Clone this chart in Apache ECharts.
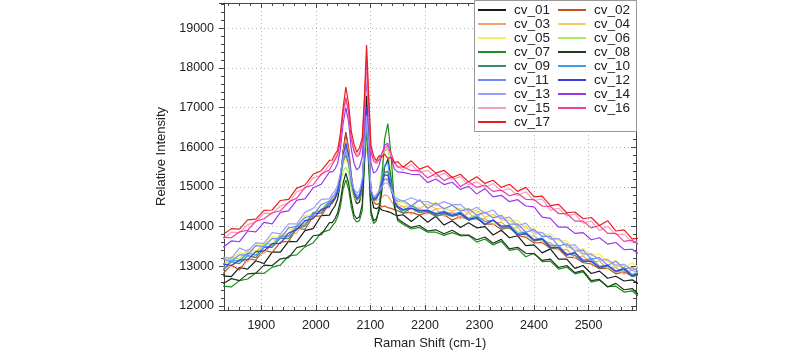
<!DOCTYPE html>
<html>
<head>
<meta charset="utf-8" />
<title>Raman spectra</title>
<script src="https://cdn.jsdelivr.net/npm/echarts@6/dist/echarts.min.js"></script>
<style type="text/css">
body, html {
	margin: 0;
	padding: 0;
	background: #fff;
}
#chart {
	width: 800px;
	height: 356px;
}
</style>
</head>
<body>
<div id="chart"></div>
<script>
// Raman shift positions (cm-1), denser around the three peaks
const shift = [1830,1845,1860,1875,1890,1905,1920,1935,1950,1965,1980,1995,2010,2025,
	2030,2035,2040,2045,2050,2055,2060,2065,2070,2075,2080,2085,2089,2093,2097,2101,2106,2111,2116,2121,2126,2132,2138,2144,2150,
	2160,2175,2190,2205,2220,2235,2250,2265,2280,2295,2310,2325,2340,2355,2370,2385,2400,2415,2430,2445,2460,2475,2490,2505,2520,2535,2550,2565,2580,2595];

const names = ['cv_01','cv_02','cv_03','cv_04','cv_05','cv_06','cv_07','cv_08','cv_09','cv_10','cv_11','cv_12','cv_13','cv_14','cv_15','cv_16','cv_17'];
const colors = ['#1a1a1a','#c4501e','#f4a470','#f5c860','#f0f060','#a8ec60','#1e8c1e','#1a3c1a','#3a8a7c','#3c9ce6','#7088f8','#3c3ce0','#98a0f8','#9a38ec','#f8a0c0','#f03c9c','#e82020'];

const cv01 = [12760,12740,12970,12930,13140,13070,13360,13360,13630,13620,13900,13950,14280,14290,
	14420,14520,14700,15100,15900,16380,15950,15200,14750,14580,14620,14950,16100,17300,16100,14800,14480,14450,14500,14420,14400,14380,14350,14300,14280,
	14300,14130,14290,14110,14260,14040,14150,13980,14100,13970,14000,13790,13910,13720,13770,13520,13540,13340,13440,13180,13180,12950,13020,12820,12880,12700,12750,12630,12660,12530];
const cv02 = [12820,13030,12910,13180,13160,13400,13350,13610,13630,13960,13930,14260,14270,14590,
	14580,14700,14850,15200,15900,16350,16000,15300,14850,14650,14700,15000,16000,17000,16000,14900,14620,14560,14580,14500,14520,14480,14460,14430,14400,
	14340,14360,14290,14360,14280,14300,14170,14250,14180,14210,14060,14070,13930,13990,13780,13730,13590,13600,13450,13440,13230,13220,13090,13060,12940,12950,12810,12860,12750,12810];
const cv03 = [12980,13000,13150,13120,13290,13330,13560,13580,13780,13840,14130,14200,14450,14480,
	14640,14740,14880,15250,15850,16200,15900,15250,14850,14700,14750,15050,16000,16900,16000,14950,14680,14650,14700,14750,14800,14780,14650,14520,14480,
	14510,14310,14470,14320,14450,14260,14370,14200,14350,14170,14210,14050,14120,13940,13980,13740,13770,13610,13600,13410,13430,13210,13260,13080,13140,12930,12970,12800,12910,12770];
const cv04 = [13040,13210,13190,13430,13380,13560,13560,13810,13830,14050,14070,14360,14430,14670,
	14680,14760,14900,15250,15650,15900,15650,15100,14800,14700,14760,15050,15800,16400,15800,14850,14680,14720,14850,15050,15200,15150,14900,14650,14580,
	14500,14540,14460,14570,14450,14470,14390,14460,14340,14420,14240,14310,14170,14160,13990,14010,13810,13860,13680,13700,13480,13470,13280,13330,13170,13180,12970,13050,12920,13010];
const cv05 = [13220,13190,13350,13300,13540,13540,13750,13720,13950,14000,14280,14310,14560,14590,
	14720,14800,14950,15250,15550,15700,15500,15050,14800,14720,14780,15000,15600,16000,15600,14900,14720,14800,14950,15200,15400,15350,15000,14700,14620,
	14610,14490,14660,14480,14620,14420,14550,14430,14460,14350,14390,14230,14300,14140,14160,13940,13950,13760,13830,13650,13640,13390,13450,13260,13310,13100,13140,12970,13090,12930];
const cv06 = [13030,13240,13180,13340,13340,13550,13570,13750,13760,14020,14100,14330,14360,14590,
	14640,14720,14850,15100,15400,15500,15350,14950,14720,14650,14700,14950,15600,16100,15600,14800,14620,14680,14900,15400,15900,16000,15300,14700,14500,
	14390,14470,14430,14420,14350,14380,14280,14360,14220,14300,14120,14150,13980,14050,13870,13860,13630,13690,13520,13530,13320,13330,13120,13210,13000,13010,12850,12930,12790,12880];
const cv07 = [12500,12480,12640,12680,12830,12820,12980,13030,13260,13290,13490,13590,13850,13920,
	14020,14100,14250,14500,14950,15180,14950,14500,14200,14120,14150,14400,15500,16500,15500,14300,14080,14150,14500,15200,16200,16600,15800,14600,14150,
	14060,13940,13980,13860,13860,13780,13850,13770,13780,13610,13690,13540,13630,13400,13440,13240,13330,13120,13130,12930,12980,12810,12860,12600,12650,12490,12500,12350,12380,12210];
const cv08 = [12560,12690,12640,12810,12830,13030,13020,13190,13220,13470,13520,13770,13800,14100,
	14100,14200,14350,14650,15100,15350,15100,14650,14300,14200,14250,14550,15700,16700,15700,14400,14150,14200,14400,14900,15500,15700,15200,14500,14200,
	14100,13980,14030,13890,13920,13820,13910,13790,13790,13670,13740,13580,13680,13440,13480,13330,13320,13150,13180,12970,13020,12840,12890,12640,12670,12480,12570,12410,12440,12240];
const cv09 = [12890,13120,13070,13270,13220,13480,13480,13710,13700,13950,14010,14330,14340,14590,
	14620,14700,14850,15200,15650,15800,15600,15100,14800,14680,14720,15000,15800,16500,15800,14850,14650,14700,14850,15100,15350,15400,15000,14600,14480,
	14340,14470,14350,14390,14250,14330,14260,14310,14160,14220,14040,14170,13970,13970,13790,13820,13640,13680,13460,13470,13310,13280,13110,13130,12950,13010,12860,12920,12740,12790];
const cv10 = [12920,13160,13130,13330,13280,13490,13510,13760,13760,14000,14040,14350,14400,14630,
	14660,14740,14900,15250,15750,16000,15750,15200,14850,14720,14760,15050,15950,16800,15950,14900,14700,14750,14900,15200,15550,15600,15100,14650,14520,
	14400,14530,14410,14410,14330,14390,14310,14370,14200,14270,14130,14160,14010,14030,13830,13860,13680,13710,13530,13530,13290,13340,13160,13190,13000,13030,12860,12970,12790,12850];
const cv11 = [13190,13120,13290,13290,13520,13500,13700,13700,13970,14010,14230,14280,14560,14640,
	14740,14820,14960,15300,15700,15900,15700,15150,14880,14780,14820,15100,15900,16600,15900,14900,14720,14760,14850,15050,15200,15200,14950,14700,14640,
	14660,14520,14680,14460,14590,14450,14540,14390,14450,14290,14360,14220,14280,14060,14070,13860,13930,13750,13760,13510,13570,13380,13410,13180,13220,13020,13130,12930,12970,12830];
const cv12 = [13060,13020,13160,13170,13370,13390,13570,13580,13840,13920,14150,14200,14430,14510,
	14640,14720,14880,15250,15800,16100,15800,15250,14860,14720,14760,15050,16000,17000,16000,14900,14680,14720,14850,15100,15300,15300,14950,14620,14500,
	14430,14460,14390,14410,14310,14360,14280,14340,14180,14230,14060,14170,14010,14020,13790,13830,13660,13690,13480,13480,13280,13350,13130,13130,12970,13030,12880,12940,12760,12830];
const cv13 = [13230,13200,13460,13380,13590,13580,13850,13820,14070,14070,14360,14460,14690,14700,
	14820,14900,15050,15350,15750,15950,15700,15200,14950,14850,14900,15200,16000,16800,16000,14950,14750,14800,14900,15000,15100,15100,14950,14750,14700,
	14640,14730,14640,14630,14540,14630,14550,14560,14390,14490,14340,14420,14200,14240,14020,14090,13870,13850,13690,13700,13520,13540,13320,13300,13170,13160,13030,13050,12890,12980];
const cv14 = [13480,13640,13620,13890,13870,14110,14070,14360,14400,14670,14700,14980,15070,15380,
	15380,15450,15600,15950,16600,17000,16650,15950,15600,15430,15500,15750,16700,17800,16800,15600,15350,15400,15550,15800,16050,16100,15750,15450,15380,
	15370,15320,15310,15110,15200,15060,15120,14940,15020,14820,14960,14750,14790,14630,14680,14520,14500,14240,14210,13990,13990,13830,13850,13670,13720,13560,13600,13420,13430,13280];
const cv15 = [13680,13860,13850,14050,14120,14340,14330,14520,14600,14880,14960,15230,15290,15560,
	15620,15720,15880,16200,16800,17200,16850,16250,15950,15820,15880,16120,17000,17900,17000,15950,15700,15650,15700,15800,15900,15950,15800,15600,15520,
	15430,15570,15360,15420,15250,15350,15190,15260,15050,15130,14990,15090,14900,14960,14780,14880,14660,14700,14410,14470,14270,14320,14090,14140,13900,14010,13800,13810,13610,13650];
const cv16 = [13730,13720,13870,13910,14140,14200,14350,14400,14620,14720,14990,15050,15330,15430,
	15560,15680,15800,16150,16900,17250,16900,16200,15900,15760,15820,16100,17100,18300,17100,15900,15650,15600,15680,15850,15980,16050,15850,15620,15500,
	15510,15410,15420,15230,15340,15160,15260,15010,15130,14990,15050,14890,14920,14780,14840,14690,14680,14520,14510,14330,14330,14140,14140,13970,14030,13830,13830,13630,13660,13520];
const cv17 = [13800,13950,13940,14170,14190,14410,14420,14660,14690,14970,15050,15320,15410,15670,
	15680,15820,15930,16350,17000,17520,17100,16400,16080,15880,15990,16230,17250,18580,17300,16050,15780,15660,15790,15760,15830,15720,15740,15610,15640,
	15500,15660,15450,15530,15350,15420,15240,15320,15130,15260,15090,15170,14990,15070,14890,14990,14750,14770,14530,14560,14350,14370,14200,14230,14030,14150,13890,13920,13690,13710];

const spectra = [cv01,cv02,cv03,cv04,cv05,cv06,cv07,cv08,cv09,cv10,cv11,cv12,cv13,cv14,cv15,cv16,cv17];

let chart = echarts.init(document.getElementById('chart'));

let seriesList = [];
for (let i = 0; i < spectra.length; i++) {
	seriesList.push({
		name: names[i],
		type: 'line',
		symbol: 'none',
		silent: true,
		clip: true,
		data: shift.map(function (x, k) { return [x, spectra[i][k]]; }),
		lineStyle: { width: 1.2, color: colors[i] },
		itemStyle: { color: colors[i] }
	});
}

const fontName = 'Arial, "Liberation Sans", sans-serif';
const plainNum = function (v) { return String(v); };
const axisFont = { fontFamily: fontName, fontSize: 12.5, color: '#222', formatter: plainNum };
const gridLine = { show: true, lineStyle: { color: '#b8b8b8', type: [1, 3], width: 1 } };
const legendText = { fontFamily: fontName, fontSize: 13.5, color: '#222', padding: [0, 0, 0, 3], lineHeight: 14 };

chart.setOption({
	animation: false,
	grid: { left: 224, right: 164, top: 3, bottom: 46 },
	// two legends so that rows can sit tight while columns stay apart
	legend: [
		{
			left: 478, top: 3, orient: 'vertical', padding: 0, itemGap: 0, z: 6,
			icon: 'rect', itemWidth: 28, itemHeight: 2,
			data: ['cv_01','cv_03','cv_05','cv_07','cv_09','cv_11','cv_13','cv_15','cv_17'],
			textStyle: legendText
		},
		{
			left: 558, top: 3, orient: 'vertical', padding: 0, itemGap: 0, z: 6,
			icon: 'rect', itemWidth: 28, itemHeight: 2,
			data: ['cv_02','cv_04','cv_06','cv_08','cv_10','cv_12','cv_14','cv_16'],
			textStyle: legendText
		}
	],
	graphic: [{
		type: 'rect', z: 3,
		shape: { x: 474.5, y: 0.5, width: 162, height: 131 },
		style: { fill: '#fff', stroke: '#999', lineWidth: 1 }
	}],
	xAxis: [
		{
			type: 'value', min: 1831.6, max: 2587, splitNumber: 7,
			name: 'Raman Shift (cm-1)', nameLocation: 'middle', nameGap: 26,
			nameTextStyle: { fontFamily: fontName, fontSize: 13, color: '#222' },
			axisLine: { lineStyle: { color: '#444', width: 1 } },
			axisTick: { inside: true, length: 5, lineStyle: { color: '#444' } },
			minorTick: { show: true, splitNumber: 5, length: 3, lineStyle: { color: '#444' } },
			axisLabel: Object.assign({ margin: 9, showMinLabel: false, showMaxLabel: false }, axisFont),
			splitLine: gridLine
		},
		{
			type: 'value', position: 'top', min: 1831.6, max: 2587, splitNumber: 7,
			axisLine: { show: true, lineStyle: { color: '#444', width: 1 } },
			axisTick: { inside: true, length: 5, lineStyle: { color: '#444' } },
			minorTick: { show: true, splitNumber: 5, length: 3, lineStyle: { color: '#444' } },
			axisLabel: { show: false },
			splitLine: { show: false }
		}
	],
	yAxis: [
		{
			type: 'value', min: 11899, max: 19638, splitNumber: 8,
			name: 'Relative Intensity', nameLocation: 'middle', nameGap: 52,
			nameTextStyle: { fontFamily: fontName, fontSize: 13, color: '#222' },
			axisLine: { show: true, lineStyle: { color: '#444', width: 1 } },
			axisTick: { inside: false, length: 5, lineStyle: { color: '#444' } },
			minorTick: { show: true, splitNumber: 5, length: 3, lineStyle: { color: '#444' } },
			axisLabel: Object.assign({ margin: 10, showMinLabel: false, showMaxLabel: false }, axisFont),
			splitLine: gridLine
		},
		{
			type: 'value', position: 'right', min: 11899, max: 19638, splitNumber: 8,
			axisLine: { show: true, lineStyle: { color: '#444', width: 1 } },
			axisTick: { inside: true, length: 5, lineStyle: { color: '#444' } },
			minorTick: { show: true, splitNumber: 5, length: 3, lineStyle: { color: '#444' } },
			axisLabel: { show: false },
			splitLine: { show: false }
		}
	],
	series: seriesList
});
</script>
</body>
</html>
